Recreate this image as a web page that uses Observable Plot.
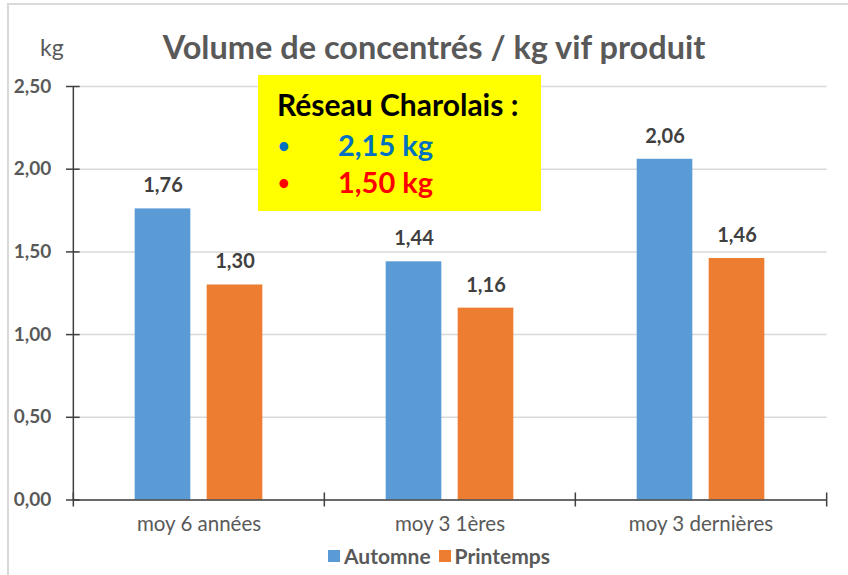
<!DOCTYPE html>
<html>
<head>
<meta charset="utf-8">
<script src="https://cdn.jsdelivr.net/npm/d3@7"></script>
<script src="https://cdn.jsdelivr.net/npm/@observablehq/plot@0.6"></script>
<style>
  html, body { margin: 0; padding: 0; background: #fff; }
  #wrap { position: relative; width: 848px; height: 575px; overflow: hidden; font-family: Lato, "Open Sans", sans-serif; }
  #border { position: absolute; left: 7px; top: 3px; width: 900px; height: 700px; border-left: 2px solid #d9d9d9; border-top: 2px solid #d9d9d9; }
  #chart { position: absolute; left: 0; top: 0; }
  #title { position: absolute; left: 0; width: 868px; top: 28px; text-align: center; font-size: 32.5px; font-weight: 700; color: #595959; white-space: nowrap; line-height: 38px; }
  #unit { position: absolute; left: 40px; top: 33px; font-size: 23px; color: #595959; line-height: 28px; }
  #legend { position: absolute; left: 0; width: 878px; top: 543px; display: flex; justify-content: center; align-items: center; font-size: 21px; font-weight: 700; color: #595959; line-height: 26px; }
  #legend .sw { display: inline-block; width: 12px; height: 12px; margin-right: 4px; }
  #legend .item { display: flex; align-items: center; margin: 0 4px; }
  #box { position: absolute; left: 258px; top: 75px; width: 283px; height: 136px; background: #ffff00; font-weight: 700; }
  #box .head { position: absolute; left: 19px; top: 11px; font-size: 30px; color: #000; white-space: nowrap; line-height: 36px; }
  #box .row { position: absolute; left: 20px; font-size: 29px; white-space: nowrap; line-height: 34px; display: flex; align-items: center; }
  #box .row .bul { display: inline-block; width: 60px; font-size: 20px; }
</style>
</head>
<body>
<div id="wrap">
  <div id="border"></div>
  <div id="chart"></div>
  <div id="title"></div>
  <div id="unit"></div>
  <div id="box"></div>
  <div id="legend"></div>
</div>
<script>
// ---- data ----
const title = "Volume de concentrés / kg vif produit";
const unit = "kg";
const categories = ["moy 6 années", "moy 3 1ères", "moy 3 dernières"];
const seriesNames = ["Automne", "Printemps"];
const automne = [1.76, 1.44, 2.06];
const printemps = [1.30, 1.16, 1.46];
const seriesColors = ["#5B9BD5", "#ED7D31"];
const yTicks = [0, 0.5, 1.0, 1.5, 2.0, 2.5];
const boxTitle = "Réseau Charolais :";
const boxValues = ["2,15 kg", "1,50 kg"];
const boxColors = ["#0070C0", "#FF0000"];

// ---- layout ----
const W = 848, H = 575;
const mL = 72.7, mR = 21.3, mT = 86, mB = 75.5;
const bw = (W - mL - mR) / categories.length;
const barW = 56, gap = 16;
const outer = (bw - 2 * barW - gap) / 2;

const fmt = v => v.toFixed(2).replace(".", ",");
const rows = [];
categories.forEach((c, i) => {
  rows.push({cat: c, series: seriesNames[0], value: automne[i]});
  rows.push({cat: c, series: seriesNames[1], value: printemps[i]});
});
const A = rows.filter(d => d.series === seriesNames[0]);
const P = rows.filter(d => d.series === seriesNames[1]);
const labelOffset = barW / 2 + gap / 2;

const chart = Plot.plot({
  width: W, height: H,
  marginLeft: mL, marginRight: mR, marginTop: mT, marginBottom: mB,
  style: {fontFamily: "Lato, 'Open Sans', sans-serif", background: "transparent", overflow: "visible"},
  x: {type: "band", domain: categories, padding: 0},
  y: {domain: [0, 2.5]},
  marks: [
    Plot.gridY(yTicks, {stroke: "#d9d9d9", strokeOpacity: 1, strokeWidth: 1.5}),
    Plot.barY(A, {x: "cat", y: "value", fill: seriesColors[0], insetLeft: outer, insetRight: outer + barW + gap}),
    Plot.barY(P, {x: "cat", y: "value", fill: seriesColors[1], insetLeft: outer + barW + gap, insetRight: outer}),
    Plot.text(A, {x: "cat", y: "value", text: d => fmt(d.value), dx: -labelOffset, dy: -23, fontSize: 20, fontWeight: 700, fill: "#404040"}),
    Plot.text(P, {x: "cat", y: "value", text: d => fmt(d.value), dx: labelOffset, dy: -23, fontSize: 20, fontWeight: 700, fill: "#404040"}),
    // y axis line
    Plot.ruleX([categories[0]], {x: d => d, dx: -bw / 2, stroke: "#404040", strokeWidth: 1.5}),
    // y axis crossing ticks
    Plot.ruleY(yTicks, {y: d => d, x1: () => categories[0], x2: () => categories[0], insetLeft: -7, insetRight: bw - 7, stroke: "#404040", strokeWidth: 1.5}),
    Plot.axisY(yTicks, {tickSize: 0, tickPadding: 22, tickFormat: fmt, fontSize: 19, fontWeight: 700, fill: "#595959", label: null}),
    // x axis line
    Plot.ruleY([0], {stroke: "#404040", strokeWidth: 1.5}),
    // category boundary ticks
    Plot.ruleX(categories, {x: d => d, dx: -bw / 2, y1: 0, y2: 0, insetTop: 7, insetBottom: 7, stroke: "#404040", strokeWidth: 1.5}),
    Plot.ruleX([categories[categories.length - 1]], {x: d => d, dx: bw / 2, y1: 0, y2: 0, insetTop: 7, insetBottom: 7, stroke: "#404040", strokeWidth: 1.5}),
    Plot.axisX({tickSize: 0, tickPadding: 16, fontSize: 20.5, fill: "#595959", label: null})
  ]
});
document.getElementById("chart").appendChild(chart);

document.getElementById("title").textContent = title;
document.getElementById("unit").textContent = unit;

const box = document.getElementById("box");
const head = document.createElement("div");
head.className = "head"; head.textContent = boxTitle; box.appendChild(head);
boxValues.forEach((v, i) => {
  const r = document.createElement("div");
  r.className = "row";
  r.style.top = (53 + i * 37) + "px";
  r.style.color = boxColors[i];
  const b = document.createElement("span"); b.className = "bul"; b.textContent = "•";
  r.appendChild(b);
  r.appendChild(document.createTextNode(v));
  box.appendChild(r);
});

const legend = document.getElementById("legend");
seriesNames.forEach((s, i) => {
  const it = document.createElement("div"); it.className = "item";
  const sw = document.createElement("span"); sw.className = "sw"; sw.style.background = seriesColors[i];
  it.appendChild(sw);
  it.appendChild(document.createTextNode(s));
  legend.appendChild(it);
});
</script>
</body>
</html>
